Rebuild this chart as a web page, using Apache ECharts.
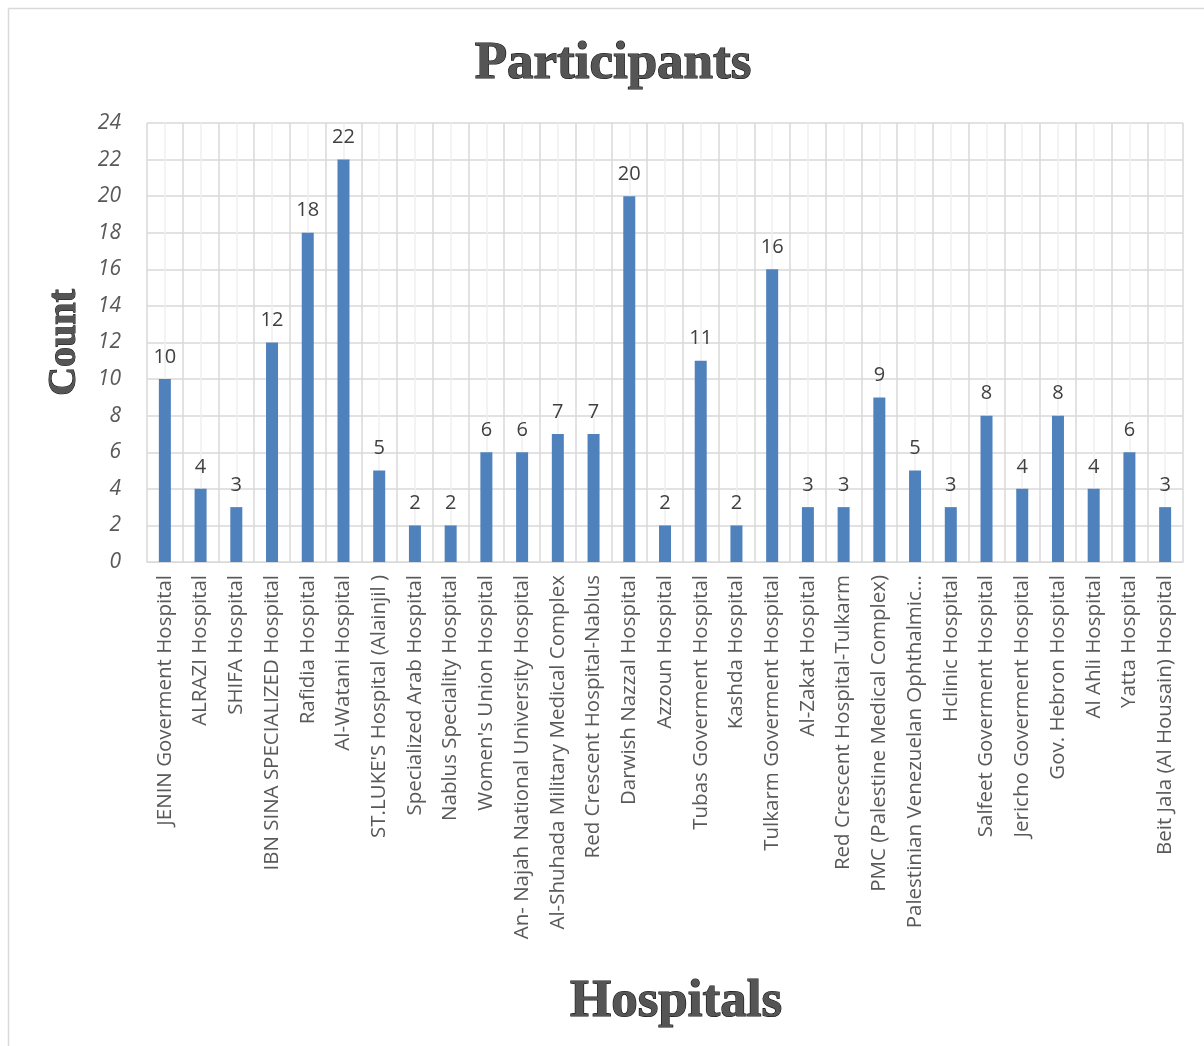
<!DOCTYPE html>
<html>
<head>
    <meta charset="utf-8">
    <title>Participants</title>
    <script src="https://cdn.jsdelivr.net/npm/echarts@6/dist/echarts.min.js"></script>
    <style>
        html, body { margin: 0; padding: 0; background: #fff; }
    </style>
</head>
<body>
<div id="main" style="width: 1204px;height:1046px;"></div>

<script type="text/javascript">
    // hospitals (x axis categories)
    var hospitals = [
        'JENIN Goverment Hospital', 'ALRAZI Hospital', 'SHIFA Hospital',
        'IBN SINA SPECIALIZED Hospital', 'Rafidia Hospital', 'Al-Watani Hospital',
        "ST.LUKE'S Hospital (Alainjil )", 'Specialized Arab Hospital', 'Nablus Speciality Hospital',
        "Women's Union Hospital", 'An- Najah National University Hospital',
        'Al-Shuhada Military Medical Complex', 'Red Crescent Hospital-Nablus',
        'Darwish Nazzal Hospital', 'Azzoun Hospital', 'Tubas Goverment Hospital',
        'Kashda Hospital', 'Tulkarm Goverment Hospital', 'Al-Zakat Hospital',
        'Red Crescent Hospital-Tulkarm', 'PMC (Palestine Medical Complex)',
        'Palestinian Venezuelan Ophthalmic...', 'Hclinic Hospital',
        'Salfeet Goverment Hospital', 'Jericho Goverment Hospital',
        'Gov. Hebron Hospital', 'Al Ahli Hospital', 'Yatta Hospital',
        'Beit Jala (Al Housain) Hospital'
    ];
    // participants per hospital
    var counts = [10, 4, 3, 12, 18, 22, 5, 2, 2, 6, 6, 7, 7, 20, 2, 11, 2, 16, 3, 3, 9, 5, 3, 8, 4, 8, 4, 6, 3];

    var yMin = 0, yMax = 24, yStep = 2;

    var myChart = echarts.init(document.getElementById('main'));

    var titleFont = '"Liberation Serif", "DejaVu Serif", serif';
    var labelFont = '"Open Sans", "Noto Sans", sans-serif';

    myChart.setOption({
        backgroundColor: '#fff',
        animation: false,
        title: {
            text: 'Participants',
            left: 608,
            top: 33,
            textAlign: 'center',
            textStyle: {
                fontFamily: titleFont,
                fontWeight: 'bold',
                fontSize: 53,
                color: '#555555',
                textBorderColor: '#111',
                textBorderWidth: 1.2
            }
        },
        graphic: [
            {
                type: 'line',
                shape: {x1: 8.5, y1: 8.5, x2: 1204, y2: 8.5},
                style: {stroke: '#d9d9d9', lineWidth: 1.5}
            },
            {
                type: 'line',
                shape: {x1: 8.5, y1: 8.5, x2: 8.5, y2: 1046},
                style: {stroke: '#d9d9d9', lineWidth: 1.5}
            }
        ],
        grid: {
            left: 147,
            right: 21,
            top: 123,
            bottom: 484,
            containLabel: false
        },
        xAxis: [
            {
                type: 'category',
                data: hospitals,
                name: 'Hospitals',
                nameLocation: 'middle',
                nameGap: 414,
                nameTextStyle: {
                    fontFamily: titleFont,
                    fontWeight: 'bold',
                    fontSize: 53,
                    color: '#555555',
                    textBorderColor: '#111',
                    textBorderWidth: 1.2,
                    padding: [0, 0, 0, 22]
                },
                axisLine: {show: true, lineStyle: {color: '#d9d9d9', width: 1}},
                axisTick: {show: false},
                splitLine: {show: false},
                axisLabel: {
                    interval: 0,
                    rotate: 90,
                    margin: 13,
                    fontFamily: labelFont,
                    fontSize: 20.5,
                    color: '#595959'
                }
            },
            {
                // helper axis for the grid lines between and through categories
                type: 'value',
                min: 0,
                max: hospitals.length,
                interval: 1,
                show: true,
                position: 'bottom',
                axisLine: {show: false},
                axisTick: {show: false},
                axisLabel: {show: false},
                splitLine: {show: true, lineStyle: {color: '#d9d9d9', width: 1.5}},
                minorTick: {show: false, splitNumber: 2},
                minorSplitLine: {show: true, lineStyle: {color: '#efefef', width: 1.5}}
            }
        ],
        yAxis: {
            type: 'value',
            min: yMin,
            max: yMax,
            interval: yStep,
            name: 'Count',
            nameLocation: 'middle',
            nameGap: 62,
            nameRotate: 90,
            nameTextStyle: {
                fontFamily: titleFont,
                fontWeight: 'bold',
                fontSize: 40,
                color: '#555555',
                textBorderColor: '#111',
                textBorderWidth: 1
            },
            axisLine: {show: false},
            axisTick: {show: false},
            splitLine: {show: true, lineStyle: {color: '#d9d9d9', width: 1.5}},
            axisLabel: {
                margin: 26,
                fontFamily: labelFont,
                fontStyle: 'italic',
                fontSize: 21,
                color: '#595959'
            }
        },
        series: [
            {
                name: 'Count',
                type: 'bar',
                data: counts,
                barWidth: 12,
                itemStyle: {color: '#4f81bd'},
                label: {
                    show: true,
                    position: 'top',
                    distance: 12,
                    fontFamily: labelFont,
                    fontSize: 20,
                    color: '#404040'
                }
            }
        ]
    });
</script>
</body>
</html>
